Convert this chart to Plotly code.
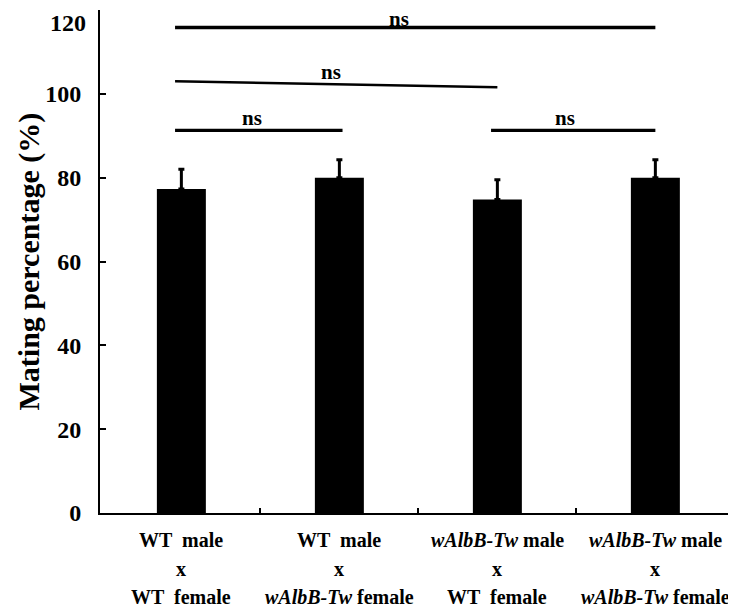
import plotly.graph_objects as go

categories_line1 = ["WT  male", "WT  male", "<i>wAlbB-Tw</i> male", "<i>wAlbB-Tw</i> male"]
categories_line2 = ["x", "x", "x", "x"]
categories_line3 = ["WT  female", "<i>wAlbB-Tw</i> female", "WT  female", "<i>wAlbB-Tw</i> female"]
mating_pct = [77.3, 80.0, 74.8, 80.0]
sem = [4.7, 4.3, 4.7, 4.3]
y_ticks = [0, 20, 40, 60, 80, 100, 120]
y_title = "Mating percentage (%)"

# significance comparisons
sig_x0 = [-0.04, -0.04, -0.04, 1.96]
sig_x1 = [3.0, 2.0, 1.02, 3.0]
sig_y0 = [115.8, 103.0, 91.3, 91.3]
sig_y1 = [115.8, 101.6, 91.3, 91.3]
sig_lab_x = [1.38, 0.945, 0.445, 2.43]
sig_lab_y = [117.9, 105.3, 94.3, 94.3]
sig_lab = ["ns", "ns", "ns", "ns"]
sig_w = [3.5, 2.5, 3.2, 3.2]

FONT = "Liberation Serif"
xs = list(range(len(mating_pct)))

fig = go.Figure()
fig.add_trace(go.Bar(
    x=xs, y=mating_pct, width=0.31,
    marker=dict(color="black", line=dict(width=0)),
    error_y=dict(type="data", array=sem, arrayminus=[0]*len(sem), symmetric=False,
                 color="black", thickness=3, width=3),
))

for i in range(len(sig_lab)):
    fig.add_shape(type="line", xref="x", yref="y", x0=sig_x0[i], x1=sig_x1[i],
                  y0=sig_y0[i], y1=sig_y1[i], line=dict(color="black", width=sig_w[i]))
    fig.add_annotation(x=sig_lab_x[i], y=sig_lab_y[i], xref="x", yref="y", text="<b>%s</b>" % sig_lab[i],
                       showarrow=False, font=dict(family=FONT, size=21, color="black"))

rows = [categories_line1, categories_line2, categories_line3]
row_shift = [-27, -56, -84]
for r, labels in enumerate(rows):
    for i, t in enumerate(labels):
        fig.add_annotation(x=xs[i], y=0, xref="x", yref="paper", yanchor="middle",
                           yshift=row_shift[r], text="<b>%s</b>" % t, showarrow=False,
                           font=dict(family=FONT, size=20, color="black"))

# top tick label placed as annotation so it is not clipped at the page edge
fig.add_annotation(x=0, xref="paper", xanchor="right", xshift=-12,
                   y=1, yref="paper", yanchor="top", yshift=2,
                   text="<b>%d</b>" % y_ticks[-1], showarrow=False,
                   font=dict(family=FONT, size=24, color="black"))

# y-axis title
fig.add_annotation(x=0, xref="paper", xanchor="center", xshift=-72,
                   y=0.5, yref="paper", yanchor="middle", textangle=-90,
                   text="<b>%s</b>" % y_title, showarrow=False,
                   font=dict(family=FONT, size=30, color="black"))

fig.update_layout(
    width=728, height=603,
    margin=dict(l=92, r=4, t=1.5, b=98),
    plot_bgcolor="white", paper_bgcolor="white",
    showlegend=False,
    font=dict(family=FONT, color="black"),
)
fig.update_xaxes(
    range=[-0.515, 3.485], tickmode="array", tickvals=[0.5, 1.5, 2.5, 3.485],
    ticktext=["", "", "", ""], ticks="inside", ticklen=5, tickwidth=2, tickcolor="black",
    showline=True, linecolor="black", linewidth=2, showgrid=False, zeroline=False,
    automargin=False,
)
fig.update_yaxes(
    range=[0, 120], tickmode="array", tickvals=y_ticks,
    ticktext=["<b>%d</b>" % v if v != y_ticks[-1] else "" for v in y_ticks],
    ticks="inside", ticklen=6, tickwidth=2, tickcolor="black",
    showline=True, linecolor="black", linewidth=2, showgrid=False, zeroline=False,
    tickfont=dict(family=FONT, size=24, color="black"), ticklabelstandoff=12,
    automargin=False,
)

fig.write_html("out.html")
